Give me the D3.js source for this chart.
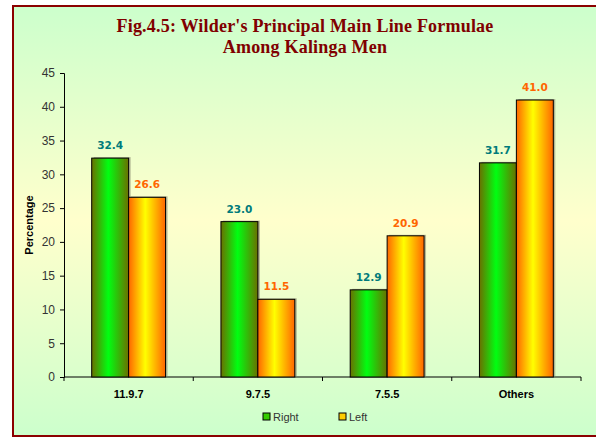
<!DOCTYPE html>
<html>
<head>
<meta charset="utf-8">
<script src="https://cdn.jsdelivr.net/npm/d3@7"></script>
<style>
  body { margin: 0; background: #fff; }
  svg { display: block; }
</style>
</head>
<body>
<svg width="596" height="439"></svg>
<script>
var categories = ['11.9.7', '9.7.5', '7.5.5', 'Others'];
var rightValues = [32.4, 23.0, 12.9, 31.7];
var leftValues = [26.6, 11.5, 20.9, 41.0];
var seriesNames = ['Right', 'Left'];
var yTicks = [0, 5, 10, 15, 20, 25, 30, 35, 40, 45];

var svg = d3.select('svg');
var defs = svg.append('defs');

// background gradient: green top and bottom, pale yellow in the middle
var bg = defs.append('linearGradient').attr('id', 'bg')
  .attr('x1', 0).attr('y1', 0).attr('x2', 0).attr('y2', 1);
bg.append('stop').attr('offset', '0%').attr('stop-color', '#ccffcc');
bg.append('stop').attr('offset', '50%').attr('stop-color', '#ffffcc');
bg.append('stop').attr('offset', '100%').attr('stop-color', '#ccffcc');

var gGreen = defs.append('linearGradient').attr('id', 'gGreen');
gGreen.append('stop').attr('offset', '0%').attr('stop-color', '#6a7000');
gGreen.append('stop').attr('offset', '45%').attr('stop-color', '#00ff11');
gGreen.append('stop').attr('offset', '100%').attr('stop-color', '#6a7000');

var gOrange = defs.append('linearGradient').attr('id', 'gOrange');
gOrange.append('stop').attr('offset', '0%').attr('stop-color', '#ff6600');
gOrange.append('stop').attr('offset', '45%').attr('stop-color', '#ffff00');
gOrange.append('stop').attr('offset', '100%').attr('stop-color', '#ff6600');

svg.append('rect')
  .attr('x', 13).attr('y', 6).attr('width', 600).attr('height', 430)
  .attr('fill', 'url(#bg)')
  .attr('stroke', '#8b0000').attr('stroke-width', 2);

var titleLines = ["Fig.4.5: Wilder's Principal Main Line Formulae", 'Among Kalinga Men'];
svg.selectAll('.title')
  .data(titleLines)
  .enter().append('text')
  .attr('x', 305).attr('y', (d, i) => 32 + i * 21)
  .attr('text-anchor', 'middle')
  .style('font-family', '"Liberation Serif", serif')
  .style('font-weight', 'bold').style('font-size', '18px')
  .style('letter-spacing', '0.2px')
  .attr('fill', '#800000')
  .text(d => d);

var x0 = 64, x1 = 581, yTop = 73, yBottom = 377;

var x = d3.scaleBand().domain(categories).range([x0, x1]).paddingInner(0).paddingOuter(0);
var xSub = d3.scaleBand().domain(seriesNames).range([0, x.bandwidth()]).paddingOuter(0.75).paddingInner(0);
var y = d3.scaleLinear().domain([0, 45]).range([yBottom, yTop]);

var chart = svg.append('g');

// y axis
var yAxis = chart.append('g')
  .attr('transform', 'translate(' + x0 + ',0)')
  .call(d3.axisLeft(y).tickValues(yTicks).tickSize(4).tickPadding(5));
yAxis.selectAll('text')
  .style('font-family', '"Liberation Sans", Arial, sans-serif')
  .style('font-size', '12px').attr('fill', '#333');
yAxis.selectAll('line, path').attr('stroke', '#000');

// x axis with ticks between categories
var xAxis = chart.append('g').attr('transform', 'translate(0,' + yBottom + ')');
xAxis.append('line').attr('x1', x0).attr('x2', x1).attr('stroke', '#000');
xAxis.selectAll('.tk')
  .data(categories.concat(['end']))
  .enter().append('line')
  .attr('x1', (d, i) => i < categories.length ? x(d) : x1)
  .attr('x2', (d, i) => i < categories.length ? x(d) : x1)
  .attr('y1', 0).attr('y2', 4)
  .attr('stroke', '#000');
xAxis.selectAll('.lbl')
  .data(categories)
  .enter().append('text')
  .attr('x', d => x(d) + x.bandwidth() / 2)
  .attr('y', 21)
  .attr('text-anchor', 'middle')
  .style('font-family', '"Liberation Sans", Arial, sans-serif')
  .style('font-weight', 'bold').style('font-size', '11px')
  .attr('fill', '#000')
  .text(d => d);

// y label
svg.append('text')
  .attr('transform', 'translate(33,' + ((yTop + yBottom) / 2) + ') rotate(-90)')
  .attr('text-anchor', 'middle')
  .style('font-family', '"Liberation Sans", Arial, sans-serif')
  .style('font-weight', 'bold').style('font-size', '11px')
  .text('Percentage');

var rows = categories.map((c, i) => ({cat: c, vals: [
  {s: 'Right', v: rightValues[i], fill: 'url(#gGreen)', label: '#007b7b'},
  {s: 'Left', v: leftValues[i], fill: 'url(#gOrange)', label: '#ff6600'}
]}));

var groups = chart.selectAll('.grp')
  .data(rows)
  .enter().append('g')
  .attr('transform', d => 'translate(' + x(d.cat) + ',0)');

// shadow
groups.selectAll('.shadow')
  .data(d => d.vals)
  .enter().append('rect')
  .attr('x', d => xSub(d.s) + 2)
  .attr('y', d => y(d.v) - 1)
  .attr('width', xSub.bandwidth())
  .attr('height', d => yBottom - y(d.v))
  .attr('fill', '#8a8a70').attr('opacity', 0.6);

groups.selectAll('.bar')
  .data(d => d.vals)
  .enter().append('rect')
  .attr('x', d => xSub(d.s))
  .attr('y', d => y(d.v))
  .attr('width', xSub.bandwidth())
  .attr('height', d => yBottom - y(d.v))
  .attr('fill', d => d.fill)
  .attr('stroke', '#000').attr('stroke-width', 1);

groups.selectAll('.val')
  .data(d => d.vals)
  .enter().append('text')
  .attr('x', d => xSub(d.s) + xSub.bandwidth() / 2)
  .attr('y', d => y(d.v) - 9)
  .attr('text-anchor', 'middle')
  .style('font-family', '"DejaVu Sans", sans-serif')
  .style('font-weight', 'bold').style('font-size', '10.5px')
  .attr('fill', d => d.label)
  .text(d => d.v.toFixed(1));

// legend
var legend = svg.append('g').attr('transform', 'translate(0,418)');
var legendItems = [
  {name: 'Right', color: '#33cc00', x: 263},
  {name: 'Left', color: '#ffcc00', x: 339}
];
legendItems.forEach(function(it) {
  legend.append('rect')
    .attr('x', it.x).attr('y', -5).attr('width', 7).attr('height', 7)
    .attr('fill', it.color).attr('stroke', '#000');
  legend.append('text')
    .attr('x', it.x + 10).attr('y', 3)
    .style('font-family', '"Liberation Sans", Arial, sans-serif')
    .style('font-size', '11px').attr('fill', '#333')
    .text(it.name);
});
</script>
</body>
</html>
